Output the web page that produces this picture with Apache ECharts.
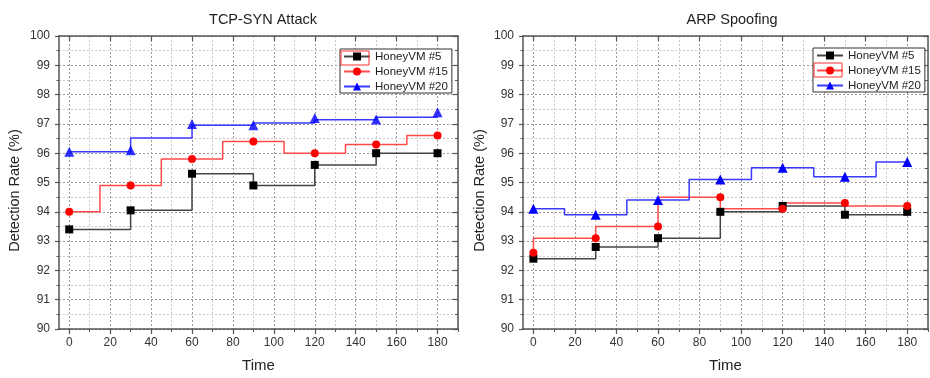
<!DOCTYPE html>
<html>
<head>
<meta charset="utf-8">
<script src="https://cdn.jsdelivr.net/npm/echarts@6/dist/echarts.min.js"></script>
<style>html,body{margin:0;padding:0;background:#fff}#c{width:930px;height:378px}</style>
</head>
<body>
<div id="c"></div>
<script>
// ---- data ----
const times = [0, 30, 60, 90, 120, 150, 180];
const xMajorTicks = [0, 20, 40, 60, 80, 100, 120, 140, 160, 180];
const xMinorTicks = [10, 30, 50, 70, 90, 110, 130, 150, 170, 190];
const seriesNames = ['HoneyVM #5', 'HoneyVM #15', 'HoneyVM #20'];
const panelTitles = ['TCP-SYN Attack', 'ARP Spoofing'];
// TCP-SYN Attack
const tcp5 = [93.4, 94.05, 95.3, 94.9, 95.6, 96.0, 96.0];
const tcp15 = [94.0, 94.9, 95.8, 96.4, 96.0, 96.3, 96.6];
const tcp20 = [96.05, 96.1, 97.0, 96.95, 97.2, 97.15, 97.4];
const tcp20Step = [96.05, 96.52, 96.95, 97.03, 97.14, 97.23, 97.23];
// ARP Spoofing
const arp5 = [92.4, 92.8, 93.1, 94.0, 94.2, 93.9, 94.0];
const arp15 = [92.6, 93.1, 93.5, 94.5, 94.1, 94.3, 94.2];
const arp20 = [94.1, 93.9, 94.4, 95.1, 95.5, 95.2, 95.7];

const pairs = ys => times.map((t, i) => [t, ys[i]]);
const FONT = 'Liberation Sans, Arial, sans-serif';
const AX = '#555';
const grids = [
  {left: 59, top: 36, width: 399, height: 297},
  {left: 523, top: 36, width: 405, height: 298}
];
const xAxes = [], yAxes = [];
grids.forEach((g, gi) => {
  xAxes.push({
    gridIndex: gi, type: 'value', min: -5, max: 190, position: 'bottom',
    name: 'Time', nameLocation: 'middle', nameGap: 29,
    nameTextStyle: {fontFamily: FONT, fontSize: 15, color: '#222'},
    axisLine: {show: true, onZero: false, lineStyle: {color: AX, width: 1.5}},
    axisTick: {show: true, customValues: xMajorTicks, length: 5, lineStyle: {color: AX, width: 1.2}},
    axisLabel: {customValues: xMajorTicks, fontFamily: FONT, fontSize: 12, color: '#333', margin: 8},
    splitLine: {show: true, lineStyle: {color: '#9a9a9a', type: [2, 2], width: 1}}
  });
  xAxes.push({
    gridIndex: gi, type: 'value', min: -5, max: 190, position: 'bottom',
    axisLine: {show: false, onZero: false},
    axisTick: {show: true, customValues: xMinorTicks, length: 3, lineStyle: {color: AX, width: 1}},
    axisLabel: {show: false},
    splitLine: {show: true, lineStyle: {color: '#c8c8c8', type: [2, 2], width: 1}}
  });
  xAxes.push({
    gridIndex: gi, type: 'value', min: -5, max: 190, position: 'top',
    axisLine: {show: true, onZero: false, lineStyle: {color: AX, width: 1.5}},
    axisTick: {show: true, inside: true, customValues: xMajorTicks, length: 5, lineStyle: {color: AX, width: 1.2}},
    axisLabel: {show: false},
    splitLine: {show: false}
  });
  yAxes.push({
    gridIndex: gi, type: 'value', min: 90, max: 100, interval: 1, position: 'left',
    name: 'Detection Rate (%)', nameLocation: 'middle', nameGap: gi === 0 ? 37 : 36,
    nameTextStyle: {fontFamily: FONT, fontSize: 14.5, color: '#222', padding: [0, 16, 0, 0]},
    axisLine: {show: true, onZero: false, lineStyle: {color: AX, width: 1.5}},
    axisTick: {show: true, length: 4, lineStyle: {color: AX, width: 1.2}},
    minorTick: {show: true, splitNumber: 2, length: 2.5, lineStyle: {color: AX, width: 1}},
    axisLabel: {fontFamily: FONT, fontSize: 12, color: '#333', margin: 9},
    splitLine: {show: true, lineStyle: {color: '#9a9a9a', type: [2, 2], width: 1}},
    minorSplitLine: {show: true, lineStyle: {color: '#c8c8c8', type: [2, 2], width: 1}}
  });
  yAxes.push({
    gridIndex: gi, type: 'value', min: 90, max: 100, interval: 1, position: 'right',
    axisLine: {show: true, onZero: false, lineStyle: {color: AX, width: 1.5}},
    axisTick: {show: true, inside: true, length: 5, lineStyle: {color: AX, width: 1.2}},
    minorTick: {show: true, splitNumber: 2, length: 3, lineStyle: {color: AX, width: 1}},
    axisLabel: {show: false},
    splitLine: {show: false}
  });
});

const styles = {
  'HoneyVM #5': {symbol: 'rect', size: 8, color: '#000', line: '#444'},
  'HoneyVM #15': {symbol: 'circle', size: 8, color: '#ff0000', line: '#ff4a4a'},
  'HoneyVM #20': {symbol: 'triangle', size: 10, color: '#0000ff', line: '#3a3aff'}
};
function lineSeries(name, gi, ys, step, showSymbol) {
  const s = styles[name];
  return {
    type: 'line', name, xAxisIndex: gi * 3, yAxisIndex: gi * 2, data: pairs(ys), step,
    symbol: s.symbol, symbolSize: s.size, showSymbol: showSymbol,
    itemStyle: {color: s.color}, lineStyle: {color: s.line, width: 1.5},
    emphasis: {disabled: true}, z: 3
  };
}
function markerSeries(name, gi, ys) {
  const s = styles[name];
  return {
    type: 'scatter', name, xAxisIndex: gi * 3, yAxisIndex: gi * 2, data: pairs(ys),
    symbol: s.symbol, symbolSize: s.size, itemStyle: {color: s.color},
    emphasis: {disabled: true}, z: 4
  };
}
const series = [
  lineSeries(seriesNames[0], 0, tcp5, 'end', true),
  lineSeries(seriesNames[1], 0, tcp15, 'middle', true),
  lineSeries(seriesNames[2], 0, tcp20Step, 'end', false),
  markerSeries(seriesNames[2], 0, tcp20),
  lineSeries(seriesNames[0], 1, arp5, 'end', true),
  lineSeries(seriesNames[1], 1, arp15, 'start', true),
  lineSeries(seriesNames[2], 1, arp20, 'middle', true)
];

const legendBase = {
  orient: 'vertical', data: seriesNames, backgroundColor: '#fff',
  borderColor: '#333', borderWidth: 1, padding: [1, 4, 0, 3],
  itemWidth: 26, itemHeight: 10, itemGap: 2, selectedMode: false,
  textStyle: {fontFamily: FONT, fontSize: 11.5, color: '#222', lineHeight: 13}
};

const chart = echarts.init(document.getElementById('c'), null, {renderer: 'canvas'});
chart.setOption({
  animation: false,
  backgroundColor: '#fff',
  title: [
    {text: panelTitles[0], left: 258, top: 7, textAlign: 'center',
     textStyle: {fontFamily: FONT, fontSize: 14.5, fontWeight: 'normal', color: '#222'}},
    {text: panelTitles[1], left: 727, top: 7, textAlign: 'center',
     textStyle: {fontFamily: FONT, fontSize: 14.5, fontWeight: 'normal', color: '#222'}}
  ],
  legend: [
    Object.assign({}, legendBase, {left: 340, top: 49}),
    Object.assign({}, legendBase, {left: 813, top: 48})
  ],
  grid: grids,
  xAxis: xAxes,
  yAxis: yAxes,
  series: series,
  graphic: [
    {type: 'rect', shape: {x: 341, y: 51, width: 28, height: 14}, style: {fill: 'none', stroke: '#ff3030', lineWidth: 1}, z: 100},
    {type: 'rect', shape: {x: 814, y: 63, width: 28, height: 14}, style: {fill: 'none', stroke: '#ff3030', lineWidth: 1}, z: 100}
  ]
});
</script>
</body>
</html>
